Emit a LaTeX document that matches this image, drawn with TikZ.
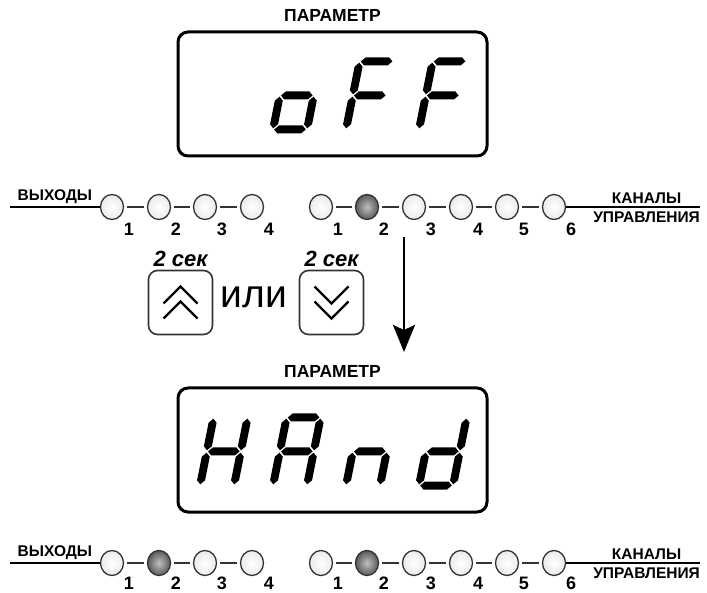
\documentclass[tikz,border=0pt]{standalone}
\usepackage{fontspec}
\setmainfont{Liberation Sans}
\usetikzlibrary{positioning,arrows.meta,shapes.geometric}

% one display segment: centre #1,#2 and angle #3
\newcommand{\seg}[3]{\fill[shift={(#1,#2)},rotate=#3] (-15.8,0) -- (-11.8,4) -- (11.8,4) -- (15.8,0) -- (11.8,-4) -- (-11.8,-4) -- cycle;}
\newcommand{\segA}{\seg{17}{68}{0}}
\newcommand{\segB}{\seg{34}{51}{90}}
\newcommand{\segC}{\seg{34}{17}{90}}
\newcommand{\segD}{\seg{17}{0}{0}}
\newcommand{\segE}{\seg{0}{17}{90}}
\newcommand{\segF}{\seg{0}{51}{90}}
\newcommand{\segG}{\seg{17}{34}{0}}
% a slanted digit, lower left corner at #1,#2
\newcommand{\digitat}[3]{\begin{scope}[shift={(#1,#2)},y=1pt,xslant=0.2]#3\end{scope}}

\begin{document}
\begin{tikzpicture}[x=1pt,y=-1pt,
  display/.style={draw,rounded corners=10pt,line width=3pt,minimum width=309pt,minimum height=124pt},
  led/.style={ellipse,draw=black!80,line width=1.3pt,minimum width=23pt,minimum height=25pt,inner sep=0pt,inner color=white,outer color=black!8},
  dim/.style={},
  lit/.style={inner color=black!25,outer color=black!65},
  link/.style={black!80,line width=1.5pt,shorten <=3pt,shorten >=3pt},
  num/.style={font=\fontsize{18}{18}\selectfont\bfseries,inner sep=0pt},
  caption/.style={font=\fontsize{15.5}{15.5}\selectfont\bfseries,inner sep=0pt},
  title/.style={font=\fontsize{17.5}{17.5}\selectfont\bfseries,inner sep=0pt},
  key/.style={draw=black!80,rounded corners=9pt,line width=1.6pt,minimum size=64pt},
  chev/.style={line width=2.4pt}]
\useasboundingbox (0,0) rectangle (707,593);

% upper display
\node[display] (disp1) at (332.5,94) {};
\node[title,above=9pt of disp1] {ПАРАМЕТР};
\digitat{273}{129.5}{\segC\segD\segE\segG}
\digitat{346}{129.5}{\segA\segE\segF\segG}
\digitat{419}{129.5}{\segA\segE\segF\segG}

% first row of leds
\foreach \i/\x/\s in {1/112/dim,2/159/dim,3/205/dim,4/252/dim}{
  \node[led,\s] (outa\i) at (\x,207) {};
  \node[num] at ([shift={(17,22)}]outa\i.center) {\i};
}
\foreach \i/\x/\s in {1/321/dim,2/367/lit,3/414/dim,4/461/dim,5/507/dim,6/554/dim}{
  \node[led,\s] (cha\i) at (\x,207) {};
  \node[num] at ([shift={(17,22)}]cha\i.center) {\i};
}
\path (outa1) edge[link] (outa2)
      (outa2) edge[link] (outa3)
      (outa3) edge[link] (outa4);
\path (cha1) edge[link] (cha2)
      (cha2) edge[link] (cha3)
      (cha3) edge[link] (cha4)
      (cha4) edge[link] (cha5)
      (cha5) edge[link] (cha6);
\coordinate (outa start) at (10,207);
\draw[line width=1.2pt] (outa start) -- node[caption,above=3pt] {ВЫХОДЫ} (outa1);
\coordinate (cha end) at (700,207);
\draw[line width=1.2pt] (cha6) -- (cha end);
\node[caption,anchor=north east] (cha lbl) at ([yshift=-5pt]cha end) {УПРАВЛЕНИЯ};
\node[caption,anchor=south] at ([yshift=3pt]cha lbl.north |- cha end) {КАНАЛЫ};

% keys
\node[key] (upkey) at (180.5,302.5) {};
\node[key] (downkey) at (331.5,302.5) {};
\node[font=\fontsize{39}{39}\selectfont,inner sep=0pt] (or) at (254,297) {или};
\node[font=\fontsize{22}{22}\selectfont\bfseries\itshape,inner sep=0pt,above=3pt of upkey] {2 сек};
\node[font=\fontsize{22}{22}\selectfont\bfseries\itshape,inner sep=0pt,above=3pt of downkey] {2 сек};
\begin{scope}[shift={(upkey)}]
  \draw[chev] (-17,16) -- (0,-1) -- (17,16) (-17,1) -- (0,-16) -- (17,1);
\end{scope}
\begin{scope}[shift={(downkey)}]
  \draw[chev] (-17,-16) -- (0,1) -- (17,-16) (-17,-1) -- (0,16) -- (17,-1);
\end{scope}

\coordinate (arr top) at (404,237);
\coordinate (arr tip) at (404,352);
\draw[line width=2.8pt,-{Stealth[length=27pt,width=22pt,inset=5pt]}] (arr top) -- (arr tip);

% lower display
\node[display] (disp2) at (332.5,450) {};
\node[title,above=9pt of disp2] {ПАРАМЕТР};
\digitat{200}{485.5}{\segB\segC\segE\segF\segG}
\digitat{273}{485.5}{\segA\segB\segC\segE\segF\segG}
\digitat{346}{485.5}{\segC\segE\segG}
\digitat{419}{485.5}{\segB\segC\segD\segE\segG}

% second row of leds
\foreach \i/\x/\s in {1/112/dim,2/159/lit,3/205/dim,4/252/dim}{
  \node[led,\s] (outb\i) at (\x,563) {};
  \node[num] at ([shift={(17,20)}]outb\i.center) {\i};
}
\foreach \i/\x/\s in {1/321/dim,2/367/lit,3/414/dim,4/461/dim,5/507/dim,6/554/dim}{
  \node[led,\s] (chb\i) at (\x,563) {};
  \node[num] at ([shift={(17,20)}]chb\i.center) {\i};
}
\path (outb1) edge[link] (outb2)
      (outb2) edge[link] (outb3)
      (outb3) edge[link] (outb4);
\path (chb1) edge[link] (chb2)
      (chb2) edge[link] (chb3)
      (chb3) edge[link] (chb4)
      (chb4) edge[link] (chb5)
      (chb5) edge[link] (chb6);
\coordinate (outb start) at (10,563);
\draw[line width=1.2pt] (outb start) -- node[caption,above=3pt] {ВЫХОДЫ} (outb1);
\coordinate (chb end) at (700,563);
\draw[line width=1.2pt] (chb6) -- (chb end);
\node[caption,anchor=north east] (chb lbl) at ([yshift=-5pt]chb end) {УПРАВЛЕНИЯ};
\node[caption,anchor=south] at ([yshift=3pt]chb lbl.north |- chb end) {КАНАЛЫ};
\end{tikzpicture}
\end{document}
